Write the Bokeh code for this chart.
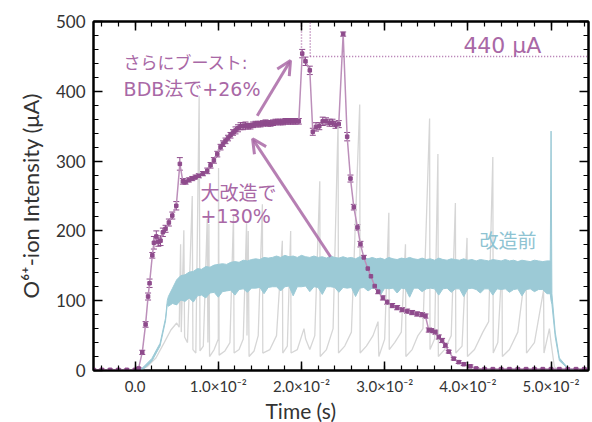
import numpy as np
from bokeh.plotting import figure
from bokeh.models import (ColumnDataSource, Whisker, TeeHead, Label, Arrow, OpenHead, Title,
                          LinearAxis, SingleIntervalTicker, CustomJSTickFormatter, Range1d)
from bokeh.embed import file_html
from bokeh.resources import INLINE

# ---------------- data (time in ms, current in uA) ----------------
# after modification (purple, with error bars)
after_t = [-5, -4, -3, -2, -1, 0, 0.42, 0.86, 1.26, 1.56, 1.74, 2.07, 2.26, 2.55, 2.79, 3.06, 3.34,
           3.66, 4.06, 4.47, 4.95, 5.38, 5.74, 6.07, 6.46, 6.87, 7.27, 7.66, 8.15, 8.67, 9.07,
           9.47, 9.88, 10.27, 10.57, 10.87, 11.17, 11.47, 11.77, 12.07, 12.37, 12.67, 12.97, 13.27,
           13.57, 13.87, 14.18, 14.48, 14.78, 15.08, 15.38, 15.68, 15.98, 16.28, 16.58, 16.88,
           17.18, 17.48, 17.78, 18.08, 18.38, 18.68, 18.98, 19.28, 19.68,
           20.09, 20.48, 21.0, 21.36, 21.74, 22.14, 22.55, 22.95, 23.37, 23.73, 24.09, 24.48,
           25.01, 25.49, 25.89, 26.29, 26.73, 27.09, 27.49, 27.97, 28.35, 28.8, 29.22, 29.79,
           30.3, 30.9, 31.5, 32.1, 32.7, 33.3, 33.9, 34.5, 34.9, 35.3, 35.7, 36.1, 36.5, 36.9,
           37.3, 37.7, 38.3, 38.9, 39.5, 40.3, 41, 42, 43, 44, 45, 46, 47, 48, 49, 50, 51, 52,
           53, 54]
after_i = [1, 1, 1, 1, 1, 1, 3, 26, 66, 106, 125, 165, 183, 192, 184, 186, 198,
           203, 212, 222, 236, 296, 271, 270, 273, 275, 277, 279, 282, 286, 294,
           301, 310, 320, 325, 329, 333, 337, 341, 344, 347, 350, 350, 351,
           350, 350, 352, 353, 353, 353, 354, 355, 354, 354, 355, 356,
           356, 356, 356, 357, 357, 357, 357, 357, 357,
           454, 443, 430, 342, 349, 350, 357, 357, 355, 355, 352, 353,
           482, 335, 275, 234, 205, 181, 162, 146, 135, 121, 113, 104,
           98, 93, 90, 87, 85, 83, 81, 80, 78, 58, 57, 55, 48, 43,
           36, 27, 17, 12, 9, 6, 3, 2, 2, 2, 2, 2, 2, 2, 2, 2, 2, 2,
           2, 2]
after_err = [1, 1, 1, 1, 1, 1, 1, 3, 4, 5, 6, 4, 9, 8, 6, 7, 6,
             5, 5, 5, 6, 9, 4, 3, 3, 3, 3, 3, 3, 4, 4,
             4, 4, 4, 4, 4, 4, 4, 4, 5, 5, 5, 5, 5,
             4, 4, 4, 4, 4, 4, 4, 4, 4, 4, 4, 4,
             4, 4, 4, 4, 4, 4, 4, 4, 4,
             6, 6, 6, 5, 6, 5, 6, 5, 5, 5, 5, 5,
             3, 6, 5, 4, 4, 4, 3, 3, 3, 3, 3, 3,
             3, 3, 3, 3, 3, 3, 3, 3, 3, 3, 3, 3, 3, 3,
             3, 2, 2, 2, 2, 2, 1, 1, 1, 1, 1, 1, 1, 1, 1, 1, 1, 1,
             1, 1]

# before modification (light blue): smooth start, noisy band (lower / upper edge), end spike
before_t = [-5, 0.5, 1, 2, 3, 3.66, 3.87,
            4.0, 4.5, 5.0, 5.5, 6.0, 6.5, 7.0, 7.5, 8.0, 8.5, 9.0, 9.5, 10.0, 10.5, 11.0, 11.5,
            12.0, 12.5, 13.0, 13.5, 14.0, 14.5, 15.0, 15.5, 16.0, 16.5, 17.0, 17.5, 18.0, 18.5,
            19.0, 19.5, 20.0, 20.5, 21.0, 21.5, 22.0, 22.5, 23.0, 23.5, 24.0, 24.5, 25.0, 25.5,
            26.0, 26.5, 27.0, 27.5, 28.0, 28.5, 29.0, 29.5, 30.0, 30.5, 31.0, 31.5, 32.0, 32.5,
            33.0, 33.5, 34.0, 34.5, 35.0, 35.5, 36.0, 36.5, 37.0, 37.5, 38.0, 38.5, 39.0, 39.5,
            40.0, 40.5, 41.0, 41.5, 42.0, 42.5, 43.0, 43.5, 44.0, 44.5, 45.0, 45.5, 46.0, 46.5,
            47.0, 47.5, 48.0, 48.5, 49.0, 49.5,
            49.9, 50.0, 50.1, 50.5, 51, 52, 53, 54.5]
before_lo = [0, 0, 2, 13, 35, 71, 95,
             92, 96, 94, 101, 99, 104, 98, 107, 108, 104, 111, 112, 105, 113, 114, 115,
             108, 116, 117, 112, 118, 118, 119, 110, 119, 120, 120, 114, 120, 121,
             107, 120, 120, 121, 113, 120, 119, 109, 120, 120, 119, 112, 119, 118,
             119, 106, 118, 119, 114, 118, 118, 108, 118, 117, 118, 111, 118, 117,
             105, 118, 118, 113, 117, 118, 117, 108, 117, 118, 112, 117, 117, 106,
             117, 118, 116, 111, 117, 117, 108, 117, 116, 117, 112, 116, 117, 107,
             116, 117, 113, 116, 116, 110,
             110, 100, 95, 48, 14, 3, 0, 0]
before_hi = [0, 0, 5, 17, 39, 75, 100,
             106, 118, 130, 136, 137, 141, 142, 146, 145, 149, 148, 151, 152, 153, 152, 155,
             156, 155, 158, 157, 159, 160, 159, 162, 161, 162, 164, 162, 165, 163,
             164, 162, 165, 163, 162, 164, 162, 163, 161, 164, 162, 161, 163, 161,
             162, 160, 163, 161, 160, 162, 160, 161, 159, 162, 160, 159, 161, 160,
             162, 160, 159, 161, 159, 160, 158, 161, 159, 158, 160, 159, 158, 160,
             158, 159, 157, 159, 158, 157, 159, 158, 157, 159, 157, 158, 156, 158,
             157, 156, 158, 157, 156, 157,
             157, 343, 110, 55, 18, 4, 0, 0]

# earlier reference data (grey)
old_t = [-5, 0.5, 1.5, 2.5, 3.5, 4.3, 5.0, 5.3, 5.47, 5.55, 5.86, 5.95, 6.3, 6.87, 6.95, 7.3,
         7.7, 7.8, 8.2, 8.67, 8.75, 8.87, 8.95, 9.5, 10.0, 10.03, 10.1, 10.8, 11.4, 11.83,
         11.9, 12.5, 13.0, 13.4, 13.45, 13.6, 13.7, 14.3, 14.8, 15.3, 15.35, 16.2, 17.0, 17.7,
         17.75, 18.3, 18.7, 18.75, 19.5, 20.3, 20.5, 21.0, 21.6, 22.2, 22.25, 23.0, 23.8, 24.4,
         24.45, 25.2, 26.0, 27.0, 27.05, 27.8, 28.6, 29.2, 29.3, 30.0, 30.5, 30.55, 31.2, 32.0,
         32.5, 32.55, 33.3, 34.0, 34.6, 35.4, 35.45, 36.0, 36.4, 36.45, 37.2, 38.0, 38.5, 38.55,
         39.3, 39.9, 39.95, 40.8, 41.8, 42.5, 43.0, 43.05, 43.6, 44.1, 44.15, 45.0, 46.0, 47.0,
         47.05, 48.0, 49.1, 49.15, 49.8, 50.0, 50.4, 51, 54.5]
old_i = [0, 0, 6, 18, 40, 58, 68, 62, 181, 55, 201, 48, 40, 250, 30, 25,
         393, 28, 35, 217, 40, 210, 20, 30, 45, 290, 22, 28, 40, 224,
         25, 30, 45, 211, 50, 200, 20, 28, 50, 238, 25, 30, 50, 186,
         25, 35, 200, 25, 30, 60, 45, 30, 50, 271, 20, 30, 60, 357,
         25, 35, 55, 381, 25, 35, 50, 70, 20, 45, 226, 30, 40, 55,
         181, 20, 30, 50, 60, 361, 30, 45, 310, 20, 30, 50, 240, 25,
         35, 190, 20, 30, 55, 70, 306, 25, 40, 153, 20, 30, 55, 150,
         25, 40, 115, 25, 60, 40, 5, 0, 0]

# reference level and marker times for the 440 uA annotation
ref_level = 450
ref_t = [20.0, 21.05]

# ---------------- styling ----------------
PURPLE = "#A968A6"
PURPLE_LINE = "#BC8FBA"
PURPLE_DARK = "#8E4B8C"
CYAN = "#9CCAD6"
GREY = "#D6D6D6"
TXT = "#333333"
FONT = "Lato"
ANN = "DejaVu Sans, Noto Sans CJK JP"

ms = lambda a: np.array(a, dtype=float) / 1000.0

p = figure(width=592, height=422, x_range=Range1d(-0.005, 0.0545), y_range=Range1d(0, 500),
           output_backend="svg", toolbar_location=None,
           min_border_left=93, min_border_right=4, min_border_top=21, min_border_bottom=52,
           background_fill_color="white", border_fill_color="white")
p.grid.visible = False
p.outline_line_color = "black"
p.outline_line_width = 2


def style_axis(ax, labels=True, size="17px", standoff=8):
    ax.axis_line_color = "black"
    ax.axis_line_width = 2
    ax.major_tick_in = 9
    ax.major_tick_out = 0
    ax.minor_tick_in = 5
    ax.minor_tick_out = 0
    ax.major_tick_line_color = "black"
    ax.major_tick_line_width = 1.5
    ax.minor_tick_line_color = "black"
    ax.minor_tick_line_width = 1.2
    ax.major_label_text_font = FONT
    ax.major_label_text_color = TXT
    ax.major_label_text_font_size = size
    ax.major_label_standoff = standoff
    if not labels:
        ax.formatter = CustomJSTickFormatter(code="return '';")
        ax.major_label_standoff = 0


fmt = CustomJSTickFormatter(code="""
if (Math.abs(tick) < 1e-9) { return "0.0"; }
return (tick*100).toFixed(1) + "\u00d710\u207b\u00b2";
""")

p.xaxis.ticker = SingleIntervalTicker(interval=0.01, num_minor_ticks=5)
p.xaxis.formatter = fmt
p.yaxis.ticker = SingleIntervalTicker(interval=100, num_minor_ticks=5)
style_axis(p.xaxis[0], size="15px", standoff=6)
style_axis(p.yaxis[0], size="17px")

p.yaxis.axis_label = "O⁶⁺-ion Intensity (μA)"
p.yaxis.axis_label_text_font = FONT
p.yaxis.axis_label_text_font_size = "22px"
p.yaxis.axis_label_text_font_style = "normal"
p.yaxis.axis_label_text_color = TXT
p.yaxis.axis_label_standoff = 9

top = LinearAxis(ticker=SingleIntervalTicker(interval=0.01, num_minor_ticks=5))
style_axis(top, labels=False)
p.add_layout(top, "above")
right = LinearAxis(ticker=SingleIntervalTicker(interval=100, num_minor_ticks=5))
style_axis(right, labels=False)
p.add_layout(right, "right")

p.add_layout(Title(text="Time (s)", align="left", offset=172, text_font=FONT,
                   text_font_size="21px", text_font_style="normal", text_color=TXT,
                   standoff=-4), "below")

# grey (old)
p.line(ms(old_t), old_i, line_color=GREY, line_width=1.3)

# cyan band (before)
p.varea(x=ms(before_t), y1=before_lo, y2=before_hi, fill_color=CYAN, fill_alpha=1.0)
p.line(ms(before_t), before_hi, line_color=CYAN, line_width=1)
p.line(ms(before_t), before_lo, line_color=CYAN, line_width=1)

# purple (after)
src = ColumnDataSource(dict(t=ms(after_t), i=after_i,
                            lo=np.array(after_i) - np.array(after_err),
                            hi=np.array(after_i) + np.array(after_err)))
p.line("t", "i", source=src, line_color=PURPLE_LINE, line_width=1.5)
p.add_layout(Whisker(source=src, base="t", lower="lo", upper="hi", line_color=PURPLE_DARK,
                     line_width=1,
                     upper_head=TeeHead(size=6, line_color=PURPLE_DARK, line_width=1),
                     lower_head=TeeHead(size=6, line_color=PURPLE_DARK, line_width=1)))
p.scatter("t", "i", source=src, size=3.5, marker="square", fill_color=PURPLE_DARK,
          line_color=PURPLE_DARK)

# dotted reference lines
rt = ms(ref_t)
p.segment(x0=[rt[0], rt[1], rt[1]], y0=[454, ref_level, ref_level],
          x1=[rt[0], rt[1], 0.0545], y1=[500, 500, ref_level],
          line_color=PURPLE, line_width=1.5, line_dash="1 2")

# arrows
for (xs, ys, xe, ye) in [(0.01468, 365, 0.01868, 444), (0.02349, 163, 0.01412, 332)]:
    p.add_layout(Arrow(end=OpenHead(size=14, line_color=PURPLE, line_width=3, line_alpha=0.85),
                       x_start=xs, y_start=ys, x_end=xe, y_end=ye,
                       line_color=PURPLE, line_width=3, line_alpha=0.85))


def lab(x, y, text, color, size="19px", font=ANN):
    p.add_layout(Label(x=x, y=y, text=text, text_color=color, text_font=font,
                       text_font_size=size, text_align="left", text_baseline="middle"))


lab(-0.00138, 440, "さらにブースト:", PURPLE, size="17px")
lab(-0.00138, 403, "BDB法で+26%", PURPLE, size="19px")
lab(0.00787, 255, "大改造で", PURPLE)
lab(0.00787, 222, "+130%", PURPLE)
lab(0.04139, 185, "改造前", "#8EC3D2")
lab(0.03946, 466, "440 μA", PURPLE, size="22px")

open("out.html", "w", encoding="utf-8").write(file_html(p, INLINE))
